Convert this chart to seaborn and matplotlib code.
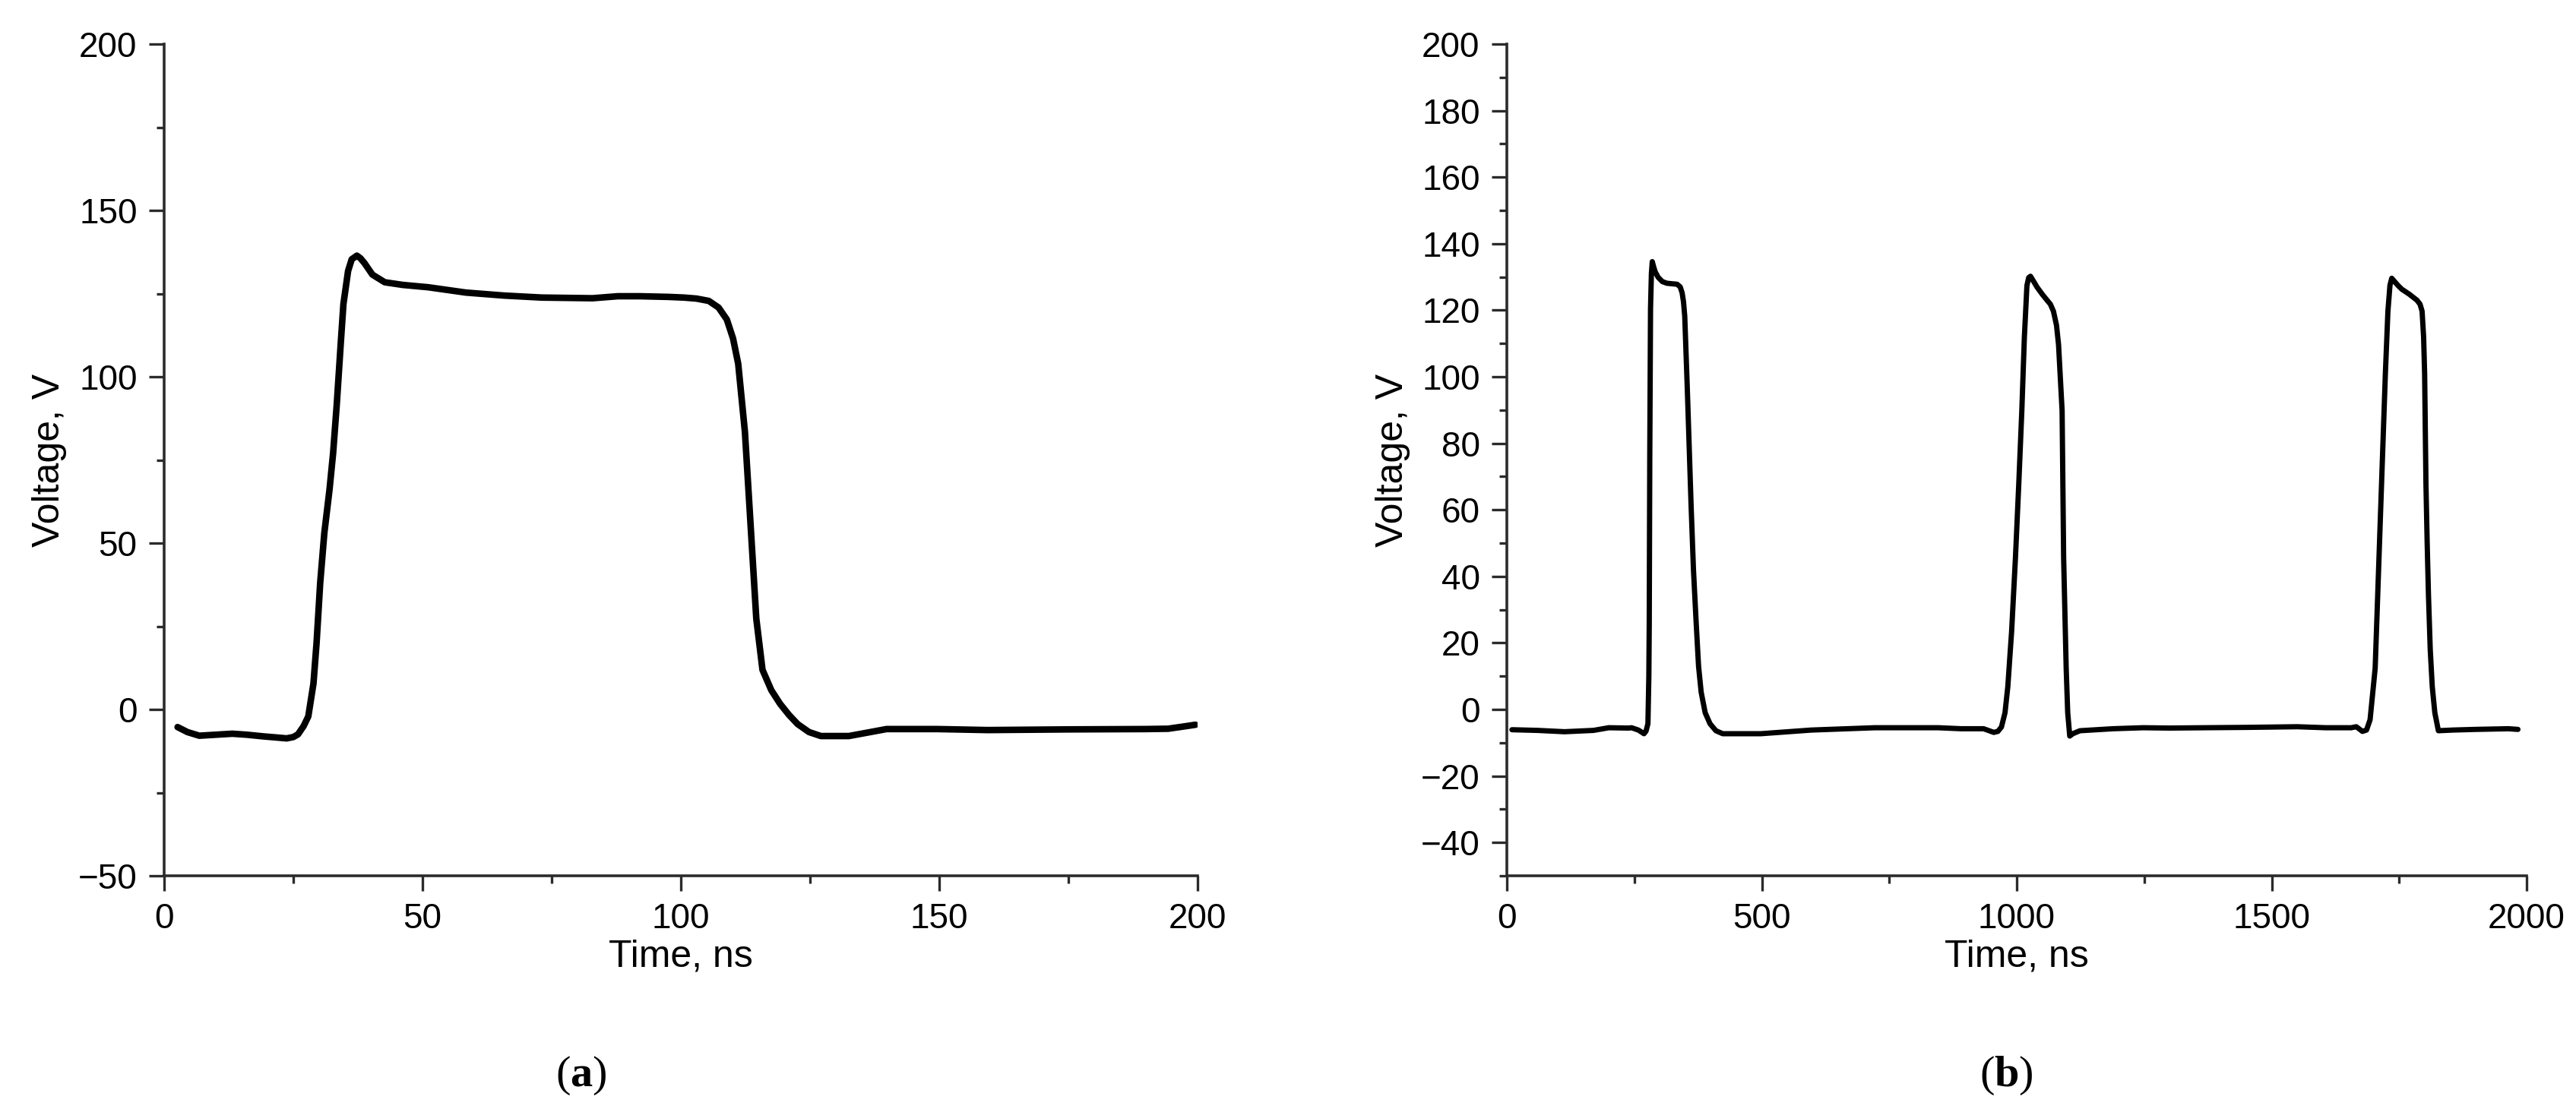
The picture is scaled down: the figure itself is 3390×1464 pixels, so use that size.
import numpy as np
import pandas as pd
import matplotlib
matplotlib.use("Agg")
import matplotlib.pyplot as plt
from matplotlib.ticker import MultipleLocator
import seaborn as sns

# ---------------- data ----------------
time_a = [2.6, 4.5, 6.8, 10.0, 13.2, 16.0, 19.2, 21.5, 23.7, 25.0, 25.9, 27.0, 27.9,
          28.9, 29.5, 30.2, 31.0, 32.0, 32.7, 33.4, 34.2, 34.7, 35.6, 36.3, 37.3, 38.0,
          38.8, 40.3, 42.7, 46.2, 51.1, 58.4, 65.8, 73.1, 82.9, 87.8, 92.0, 97.6, 100.6,
          103.0, 105.4, 107.3, 108.9, 110.1, 111.1, 112.4, 113.6, 114.6, 115.8, 117.5,
          119.2, 120.9, 122.6, 124.8, 127.1, 132.5, 136.0, 139.8, 149.6, 159.4, 175.0,
          190.0, 194.3, 197.0, 199.6]
volt_a = [-5.3, -6.8, -7.9, -7.6, -7.3, -7.6, -8.1, -8.4, -8.7, -8.3, -7.5, -5.0, -2.1,
          7.8, 20.0, 38.0, 53.0, 66.0, 77.0, 91.5, 110.5, 121.9, 131.8, 135.3, 136.4, 135.6,
          134.1, 130.7, 128.4, 127.6, 126.9, 125.3, 124.4, 123.8, 123.6, 124.2, 124.2, 124.0, 123.8,
          123.5, 122.8, 120.8, 117.2, 111.5, 103.9, 83.4, 52.8, 27.3, 11.9, 5.8,
          1.7, -1.6, -4.4, -6.8, -8.0, -8.0, -7.0, -5.9, -5.9, -6.2, -6.0,
          -5.9, -5.8, -5.2, -4.6]

time_b = [10, 60, 113, 170, 200, 239, 244.5, 258, 269, 273, 276.7, 278.5, 279.3, 280.3,
          281.8, 283.5, 285.2, 288, 291, 296.7, 305, 314, 334, 340, 343.8, 346.5, 348.9,
          353.8, 361.3, 366, 371.2, 376, 381.1, 389, 398.5, 410, 423.4, 498, 597, 721.6,
          845.8, 890.6, 935, 955, 963, 970, 977, 982.5, 990, 997.5, 1004, 1010, 1015, 1020,
          1023.5, 1027, 1033, 1040, 1050, 1059.5, 1066, 1072, 1078, 1082, 1089, 1092, 1097,
          1100, 1104, 1110, 1124, 1189, 1248, 1300, 1368, 1450, 1550, 1606, 1656, 1666, 1678,
          1686, 1693, 1703, 1708, 1713, 1718, 1723, 1728, 1732, 1735.5, 1740, 1748, 1755.3,
          1770, 1785, 1791, 1795, 1798, 1800, 1802.6, 1805, 1807.5, 1811, 1815, 1820, 1827,
          1855, 1900, 1964, 1983]
volt_b = [-6.1, -6.3, -6.7, -6.3, -5.5, -5.6, -5.5, -6.2, -7.3, -6.5, -4.3, 10.0, 26.4, 75.8,
          120.5, 131.0, 134.6, 133.0, 131.5, 129.9, 128.6, 128.1, 127.8, 127.0, 125.2, 122.5, 118.2,
          97.0, 61.6, 42.0, 26.4, 13.0, 5.2, -1.0, -4.3, -6.4, -7.3, -7.3, -6.2, -5.5,
          -5.5, -5.8, -5.8, -6.9, -6.6, -5.3, -1.0, 6.8, 23.5, 45.6, 67.7, 89.8, 111.9, 127.4,
          129.8, 130.2, 128.7, 126.9, 124.8, 123.0, 121.8, 119.7, 115.5, 109.7, 89.8, 45.6, 12.4,
          -1.0, -8.0, -7.3, -6.4, -5.8, -5.5, -5.6, -5.5, -5.4, -5.2, -5.5, -5.5, -5.2, -6.6,
          -6.2, -3.1, 12.4, 34.5, 56.7, 78.8, 100.9, 119.7, 127.5, 129.6, 128.8, 127.4, 126.3,
          124.8, 123.0, 121.8, 119.7, 112.0, 100.9, 67.7, 50.0, 34.5, 18.0, 6.8, -1.0, -6.4,
          -6.2, -6.0, -5.8, -6.0]

xticks_a = [0, 50, 100, 150, 200]
yticks_a = [-50, 0, 50, 100, 150, 200]
xticks_b = [0, 500, 1000, 1500, 2000]
yticks_b = [-40, -20, 0, 20, 40, 60, 80, 100, 120, 140, 160, 180, 200]
panel_labels = ["a", "b"]
x_label = "Time, ns"
y_label = "Voltage, V"

df_a = pd.DataFrame({"t": time_a, "v": volt_a})
df_b = pd.DataFrame({"t": time_b, "v": volt_b})

# ---------------- style ----------------
sns.set_theme(style="ticks")
plt.rcParams["font.family"] = ["Liberation Sans", "DejaVu Sans"]
plt.rcParams["mathtext.fontset"] = "custom"
plt.rcParams["mathtext.rm"] = "Liberation Serif"
plt.rcParams["mathtext.bf"] = "Liberation Serif:bold"

spine_col = "#2b2b2b"
fig = plt.figure(figsize=(33.9, 14.64), dpi=100)
fig.patch.set_facecolor("white")

ax_a = fig.add_axes([216 / 3390, 1 - 1153 / 1464, 1360 / 3390, 1095 / 1464])
ax_b = fig.add_axes([1983 / 3390, 1 - 1153 / 1464, 1342 / 3390, 1095 / 1464])

sns.lineplot(data=df_a, x="t", y="v", ax=ax_a, color="black", linewidth=6.2,
             estimator=None, sort=False, solid_joinstyle="round", solid_capstyle="round")
sns.lineplot(data=df_b, x="t", y="v", ax=ax_b, color="black", linewidth=5.0,
             estimator=None, sort=False, solid_joinstyle="round", solid_capstyle="round")

settings = [
    (ax_a, (0, 200), (-50, 200), xticks_a, yticks_a, 25, 25),
    (ax_b, (0, 2000), (-50, 200), xticks_b, yticks_b, 250, 10),
]
for ax, xl, yl, xt, yt, xminor, yminor in settings:
    ax.set_xlim(*xl)
    ax.set_ylim(*yl)
    ax.set_xticks(xt)
    ax.set_yticks(yt)
    ax.xaxis.set_minor_locator(MultipleLocator(xminor))
    ax.yaxis.set_minor_locator(MultipleLocator(yminor))
    for s in ["top", "right"]:
        ax.spines[s].set_visible(False)
    for s in ["left", "bottom"]:
        ax.spines[s].set_linewidth(2.6)
        ax.spines[s].set_color(spine_col)
    ax.tick_params(which="major", direction="out", length=14.5, width=2.4,
                   color=spine_col, labelsize=33, labelcolor="black", pad=11)
    ax.tick_params(which="minor", direction="out", length=7.5, width=2.4, color=spine_col)
    ax.set_xlabel(x_label, fontsize=36, va="center", color="black")
    ax.set_ylabel(y_label, fontsize=36, va="center", color="black")
    ax.xaxis.set_label_coords(0.5, -0.097)
    ax.set_facecolor("white")
    ax.grid(False)

ax_a.yaxis.set_label_coords(-0.111, 0.5)
ax_b.yaxis.set_label_coords(-0.112, 0.5)

fig.text(765 / 3390, 1 - 1416 / 1464, r"($\mathbf{%s}$)" % panel_labels[0],
         fontsize=42, family="Liberation Serif", ha="center", va="center", color="black")
fig.text(2640 / 3390, 1 - 1416 / 1464, r"($\mathbf{%s}$)" % panel_labels[1],
         fontsize=42, family="Liberation Serif", ha="center", va="center", color="black")

fig.savefig("out.png", dpi=100, facecolor="white")
